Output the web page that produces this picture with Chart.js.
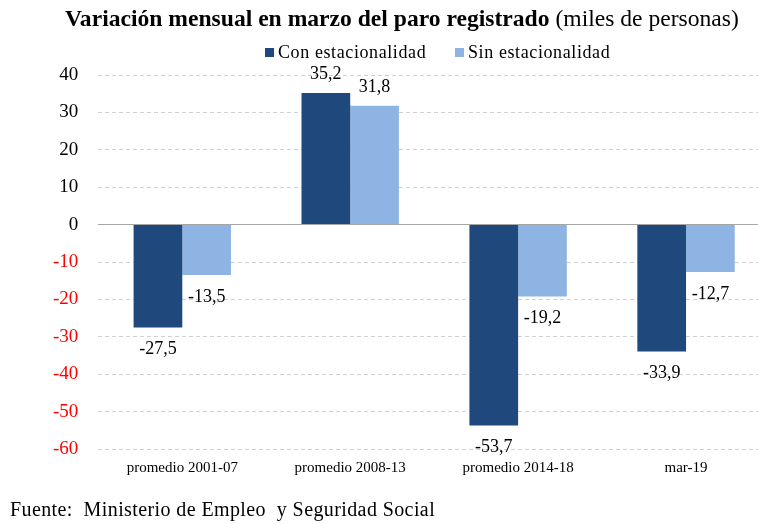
<!DOCTYPE html>
<html>
<head>
<meta charset="utf-8">
<script src="https://cdn.jsdelivr.net/npm/chart.js@4.4.1/dist/chart.umd.min.js"></script>
<style>
  html, body { margin: 0; background: #fff; overflow: hidden; }
  #wrap { position: relative; width: 758px; height: 524px; overflow: hidden; font-family: "Liberation Serif", serif; color: #000; }
  #title { position: absolute; top: 5px; left: 65px; font-size: 23.6px; white-space: nowrap; }
  #title b { font-weight: bold; }
  .leg { position: absolute; top: 42px; font-size: 18px; letter-spacing: 0.6px; white-space: nowrap; }
  .leg i { display: inline-block; width: 9px; height: 9px; margin-right: 4px; vertical-align: 1px; }
  #source { position: absolute; left: 10px; top: 498px; font-size: 20px; letter-spacing: 0.4px; white-space: pre; }
  canvas { position: absolute; top: 0; left: 0; }
</style>
</head>
<body>
<div id="wrap">
  <canvas id="chart" width="772" height="524"></canvas>
  <div id="title"><b>Variación mensual en marzo del paro registrado</b> (miles de personas)</div>
  <div class="leg" style="left:265px"><i style="background:#1f497d"></i>Con estacionalidad</div>
  <div class="leg" style="left:455px"><i style="background:#8db4e2"></i>Sin estacionalidad</div>
  <div id="source">Fuente:  Ministerio de Empleo  y Seguridad Social</div>
</div>
<script>
const categories = ["promedio 2001-07", "promedio 2008-13", "promedio 2014-18", "mar-19"];
const conEstacionalidad = [-27.5, 35.2, -53.7, -33.9];
const sinEstacionalidad = [-13.5, 31.8, -19.2, -12.7];
const seriesNames = ["Con estacionalidad", "Sin estacionalidad"];

const serif = "'Liberation Serif', 'Times New Roman', serif";

// etiquetas de valor con coma decimal
const valueLabels = {
  id: "valueLabels",
  afterDatasetsDraw(chart) {
    const ctx = chart.ctx;
    ctx.save();
    ctx.font = "18px " + serif;
    ctx.fillStyle = "#000";
    ctx.textAlign = "center";
    ctx.textBaseline = "alphabetic";
    chart.data.datasets.forEach((ds, i) => {
      chart.getDatasetMeta(i).data.forEach((bar, j) => {
        const v = ds.data[j];
        const txt = v.toFixed(1).replace(".", ",");
        const y = v >= 0 ? bar.y - 14 : bar.y + 27;
        ctx.fillText(txt, bar.x, y);
      });
    });
    ctx.restore();
  }
};

new Chart(document.getElementById("chart"), {
  type: "bar",
  data: {
    labels: categories,
    datasets: [
      { label: seriesNames[0], data: conEstacionalidad, backgroundColor: "#1f497d" },
      { label: seriesNames[1], data: sinEstacionalidad, backgroundColor: "#8db4e2" }
    ]
  },
  options: {
    responsive: false,
    animation: false,
    layout: { padding: { top: 75, left: 33, right: 2, bottom: 45 } },
    datasets: { bar: { barPercentage: 1, categoryPercentage: 0.58 } },
    plugins: {
      tooltip: { enabled: false },
      legend: { display: false }
    },
    scales: {
      x: {
        grid: { display: false },
        border: { display: false },
        ticks: { color: "#000", font: { family: serif, size: 15 }, padding: 2 }
      },
      y: {
        min: -60,
        max: 40,
        ticks: {
          stepSize: 10,
          padding: 20,
          color: (c) => (c.tick && c.tick.value < 0 ? "#ff0000" : "#000"),
          font: { family: serif, size: 19 }
        },
        grid: {
          drawTicks: false,
          color: (c) => (c.tick && c.tick.value === 0 ? "#a6a6a6" : "#d0d0d0"),
          lineWidth: 1
        },
        border: {
          display: false,
          dash: (c) => (c.tick && c.tick.value === 0 ? [] : [4, 3])
        }
      }
    }
  },
  plugins: [valueLabels]
});
</script>
</body>
</html>
